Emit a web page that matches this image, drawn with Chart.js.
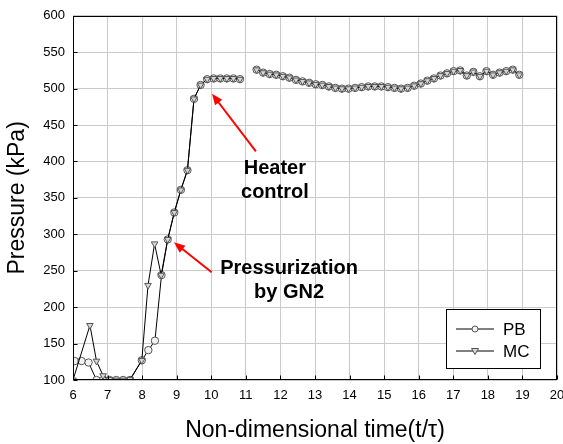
<!DOCTYPE html>
<html>
<head>
<meta charset="utf-8">
<script src="https://cdn.jsdelivr.net/npm/chart.js@4"></script>
<style>
  html, body { margin: 0; padding: 0; background: #fff; }
  canvas { display: block; }
</style>
</head>
<body>
<canvas id="pressureChart" width="563" height="444"></canvas>
<script>
// --- data ---
const pbStartTime = [6.05, 6.25, 6.45, 6.68, 6.87, 7.05, 7.25, 7.45, 7.65, 7.99, 8.18, 8.37, 8.56];
const pbStartPressure = [126, 126, 124, 100, 100, 100, 100, 100, 100, 127, 141, 154, 244];

const mcStartTime = [6.0, 6.49, 6.68, 6.87, 7.06, 7.25, 7.45, 7.65, 7.99, 8.17, 8.36, 8.55];
const mcStartPressure = [100, 175, 126, 106, 101, 100, 100, 101, 127, 230, 287, 244];

// both series overlap from here on
const riseTime = [8.74, 8.93, 9.12, 9.31, 9.50, 9.69, 9.88, 10.07, 10.26, 10.45, 10.64, 10.83];
const risePressure = [293, 330, 361, 388, 486, 505, 513, 514, 514, 514, 514, 513];

const laterTime = [11.31, 11.50, 11.69, 11.88, 12.07, 12.26, 12.45, 12.64, 12.83, 13.02,
  13.21, 13.40, 13.59, 13.78, 13.97, 14.16, 14.35, 14.54, 14.73, 14.92,
  15.11, 15.30, 15.49, 15.68, 15.87, 16.06, 16.25, 16.44, 16.63, 16.82,
  17.01, 17.20, 17.39, 17.58, 17.77, 17.96, 18.15, 18.34, 18.53, 18.72, 18.91];
const laterPressure = [526, 522, 520, 519, 517, 515, 512, 510, 508, 506,
  505, 503, 501, 500, 500, 501, 502, 503, 503, 503,
  502, 501, 500, 501, 504, 507, 511, 514, 518, 521,
  524, 525, 518, 523, 517, 524, 519, 522, 524, 526, 519];

const gapTime = 11.07; // logging gap between the two runs

const FONT = 'Arial, "Liberation Sans", sans-serif';

function toPoints(times, values) {
  return times.map((t, i) => ({ x: t, y: values[i] }));
}

function buildSeries(startT, startP) {
  return toPoints(startT, startP)
    .concat(toPoints(riseTime, risePressure))
    .concat([{ x: gapTime, y: null }])
    .concat(toPoints(laterTime, laterPressure));
}

function drawArrow(ctx, x1, y1, x2, y2) {
  const ang = Math.atan2(y2 - y1, x2 - x1);
  const len = 11, half = 4.5;
  ctx.beginPath();
  ctx.moveTo(x1, y1);
  ctx.lineTo(x2 - Math.cos(ang) * len * 0.8, y2 - Math.sin(ang) * len * 0.8);
  ctx.stroke();
  ctx.beginPath();
  ctx.moveTo(x2, y2);
  ctx.lineTo(x2 - Math.cos(ang) * len - Math.sin(ang) * half, y2 - Math.sin(ang) * len + Math.cos(ang) * half);
  ctx.lineTo(x2 - Math.cos(ang) * len + Math.sin(ang) * half, y2 - Math.sin(ang) * len - Math.cos(ang) * half);
  ctx.closePath();
  ctx.fill();
}

// frame, inside ticks, callouts and the boxed legend
const overlayPlugin = {
  id: 'overlay',
  afterDraw(chart) {
    const { ctx, chartArea: a, scales: { x, y } } = chart;
    ctx.save();

    ctx.strokeStyle = '#000';
    ctx.lineWidth = 1;
    const L = Math.round(a.left) + 0.5, R = Math.round(a.right) - 0.5;
    const T = Math.round(a.top) + 0.5, B = Math.round(a.bottom) - 0.5;
    ctx.strokeRect(L, T, R - L, B - T);

    ctx.beginPath();
    x.ticks.forEach(t => {
      const px = Math.round(x.getPixelForValue(t.value)) + 0.5;
      ctx.moveTo(px, B); ctx.lineTo(px, B - 4);
    });
    y.ticks.forEach(t => {
      const py = Math.round(y.getPixelForValue(t.value)) + 0.5;
      ctx.moveTo(L, py); ctx.lineTo(L + 4, py);
    });
    ctx.stroke();

    // callouts
    const callouts = [
      { tail: [11.29, 414], head: [10.02, 493], text: ['Heater', 'control'], at: [11.84, 374] },
      { tail: [10.01, 248], head: [8.92, 289], text: ['Pressurization', 'by GN2'], at: [12.25, 237] }
    ];
    ctx.strokeStyle = '#ff0000';
    ctx.fillStyle = '#ff0000';
    ctx.lineWidth = 2;
    callouts.forEach(c => {
      drawArrow(ctx,
        x.getPixelForValue(c.tail[0]), y.getPixelForValue(c.tail[1]),
        x.getPixelForValue(c.head[0]), y.getPixelForValue(c.head[1]));
    });
    ctx.fillStyle = '#000';
    ctx.font = 'bold 20px ' + FONT;
    ctx.textAlign = 'center';
    ctx.textBaseline = 'middle';
    callouts.forEach(c => {
      const cx = x.getPixelForValue(c.at[0]);
      const cy = y.getPixelForValue(c.at[1]);
      ctx.fillText(c.text[0], cx, cy - 12);
      ctx.fillText(c.text[1], cx, cy + 12);
    });

    // legend box
    const bx = a.right - 111, by = a.bottom - 71, bw = 94, bh = 59;
    ctx.fillStyle = '#fff';
    ctx.fillRect(bx, by, bw, bh);
    ctx.strokeStyle = '#000';
    ctx.lineWidth = 1;
    ctx.strokeRect(Math.round(bx) + 0.5, Math.round(by) + 0.5, bw, bh);
    ctx.font = '17px ' + FONT;
    ctx.textAlign = 'left';
    chart.data.datasets.forEach((ds, i) => {
      const ly = by + 20 + i * 22;
      ctx.strokeStyle = '#000';
      ctx.beginPath();
      ctx.moveTo(bx + 10, ly); ctx.lineTo(bx + 48, ly);
      ctx.stroke();
      ctx.fillStyle = ds.pointBackgroundColor;
      ctx.strokeStyle = ds.pointBorderColor;
      ctx.beginPath();
      if (ds.pointStyle === 'circle') {
        ctx.arc(bx + 29, ly, 3, 0, Math.PI * 2);
      } else {
        ctx.moveTo(bx + 25.5, ly - 2.5);
        ctx.lineTo(bx + 32.5, ly - 2.5);
        ctx.lineTo(bx + 29, ly + 3.5);
        ctx.closePath();
      }
      ctx.fill();
      ctx.stroke();
      ctx.fillStyle = '#000';
      ctx.fillText(ds.label, bx + 57, ly + 1);
    });

    ctx.restore();
  }
};

const pressureChart = new Chart(document.getElementById('pressureChart').getContext('2d'), {
  type: 'line',
  data: {
    datasets: [
      {
        label: 'PB',
        data: buildSeries(pbStartTime, pbStartPressure),
        borderColor: '#000',
        borderWidth: 1,
        pointStyle: 'circle',
        pointRadius: 3.7,
        pointBackgroundColor: '#f2f2f2',
        pointBorderColor: '#555',
        pointBorderWidth: 1,
        spanGaps: false,
        order: 1
      },
      {
        label: 'MC',
        data: buildSeries(mcStartTime, mcStartPressure),
        borderColor: '#000',
        borderWidth: 1,
        pointStyle: 'triangle',
        pointRotation: 180,
        pointRadius: 3.8,
        pointBackgroundColor: '#d6d6d6',
        pointBorderColor: '#555',
        pointBorderWidth: 1,
        spanGaps: false,
        order: 0
      }
    ]
  },
  options: {
    responsive: false,
    animation: false,
    layout: { padding: { top: 15, right: 6, left: 0, bottom: 0 } },
    plugins: {
      legend: { display: false },
      tooltip: { enabled: false }
    },
    scales: {
      x: {
        type: 'linear',
        min: 6,
        max: 20,
        ticks: { stepSize: 1, color: '#000', padding: 8, font: { family: FONT, size: 13 } },
        grid: { color: '#cacaca', lineWidth: 1, drawTicks: false },
        border: { display: false },
        title: {
          display: true,
          text: 'Non-dimensional time(t/τ)',
          color: '#000',
          font: { family: FONT, size: 23 },
          padding: { top: 0, bottom: 0 }
        },
        afterFit(scale) {
          scale.height = 64;
          scale.paddingLeft = 0;
          scale.paddingRight = 0;
        }
      },
      y: {
        min: 100,
        max: 600,
        ticks: { stepSize: 50, color: '#000', padding: 8, font: { family: FONT, size: 13 } },
        grid: { color: '#cacaca', lineWidth: 1, drawTicks: false },
        border: { display: false },
        title: {
          display: true,
          text: 'Pressure (kPa)',
          color: '#000',
          font: { family: FONT, size: 23 },
          padding: { top: 4, bottom: 0 }
        },
        afterFit(scale) {
          scale.width = 73;
        }
      }
    }
  },
  plugins: [overlayPlugin]
});
</script>
</body>
</html>
